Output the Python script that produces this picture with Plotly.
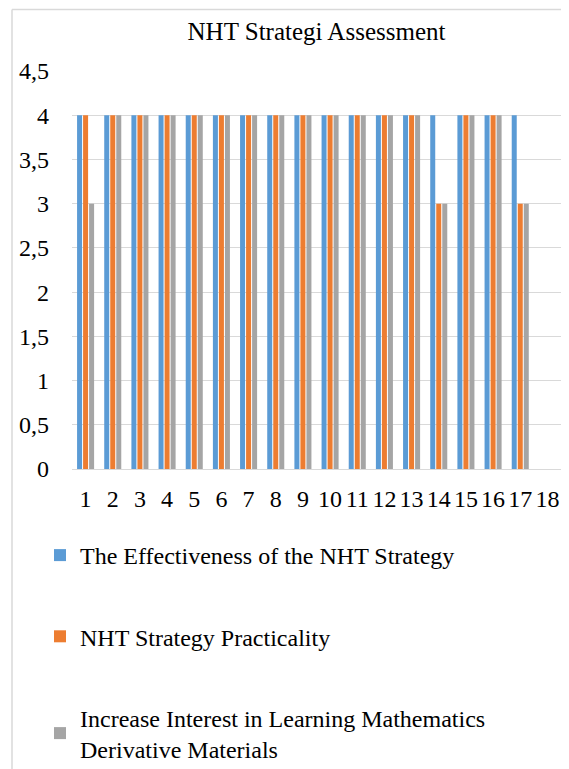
import plotly.graph_objects as go

categories = [str(i) for i in range(1, 19)]
effectiveness = [4, 4, 4, 4, 4, 4, 4, 4, 4, 4, 4, 4, 4, 4, 4, 4, 4, None]
practicality = [4, 4, 4, 4, 4, 4, 4, 4, 4, 4, 4, 4, 4, 3, 4, 4, 3, None]
interest = [3, 4, 4, 4, 4, 4, 4, 4, 4, 4, 4, 4, 4, 3, 4, 4, 3, None]

series_names = [
    "The Effectiveness of the NHT Strategy",
    "NHT Strategy Practicality",
    "Increase Interest in Learning Mathematics<br>Derivative Materials",
]
colors = ["#5B9BD5", "#ED7D31", "#A5A5A5"]
values = [effectiveness, practicality, interest]

FONT = "Liberation Serif"

fig = go.Figure()
for i, (name, vals, col) in enumerate(zip(series_names, values, colors)):
    fig.add_trace(go.Bar(
        x=categories, y=vals, name=name, marker_color=col,
        marker_line_width=0, legendgroup=f"g{i}",
    ))

# page body has an 8px margin, so the figure starts 8px in from the window corner
OFF = 8
W, H = 569 - OFF, 769 - OFF
L, T = 72 - OFF, 71 - OFF
R = W - (561 - OFF)
B = H - (469 - OFF)
pw = W - L - R
ph = H - T - B

def px_to_paper_x(px):
    return (px - OFF - L) / pw

def px_to_paper_y(py):
    return (H - B - (py - OFF)) / ph

frame_style = dict(color="#D9D9D9", width=1.5)

fig.update_layout(
    width=W, height=H,
    margin=dict(l=L, r=R, t=T, b=B, pad=0, autoexpand=False),
    paper_bgcolor="white", plot_bgcolor="white",
    separators=", ",
    font=dict(family=FONT, size=24, color="black"),
    title=dict(text="NHT Strategi Assessment", x=0.5, xref="paper", xanchor="center",
               y=1 - (31 - OFF) / H, yanchor="middle",
               font=dict(family=FONT, size=25, color="black")),
    barmode="group", bargap=0.336, bargroupgap=0.167,
    xaxis=dict(type="category", showgrid=False, showline=True, linecolor="#D9D9D9",
               linewidth=1, ticks="", ticklabelstandoff=8, automargin=False,
               tickmode="array", tickvals=categories, ticktext=categories,
               tickfont=dict(family=FONT, size=24, color="black")),
    yaxis=dict(range=[0, 4.5], dtick=0.5, showgrid=True, gridcolor="#D9D9D9",
               gridwidth=1, zeroline=False, showline=False, ticks="",
               ticklabelstandoff=22, automargin=False,
               tickfont=dict(family=FONT, size=24, color="black")),
    showlegend=True,
    legend=dict(orientation="v", xref="container", yref="container",
                x=32 / W, xanchor="left",
                y=1 - (533 - OFF) / H, yanchor="top",
                traceorder="grouped", tracegroupgap=47,
                font=dict(family=FONT, size=24, color="black"),
                bgcolor="rgba(0,0,0,0)", itemclick=False),
    shapes=[
        dict(type="line", xref="paper", yref="paper",
             x0=px_to_paper_x(12), x1=px_to_paper_x(12),
             y0=px_to_paper_y(9.5), y1=px_to_paper_y(800),
             line=frame_style, layer="below"),
        dict(type="line", xref="paper", yref="paper",
             x0=px_to_paper_x(12), x1=px_to_paper_x(600),
             y0=px_to_paper_y(9.5), y1=px_to_paper_y(9.5),
             line=frame_style, layer="below"),
    ],
)

fig.write_html(
    "out.html",
    post_script="document.documentElement.style.overflow='hidden';"
                "document.body.style.overflow='hidden';",
)
